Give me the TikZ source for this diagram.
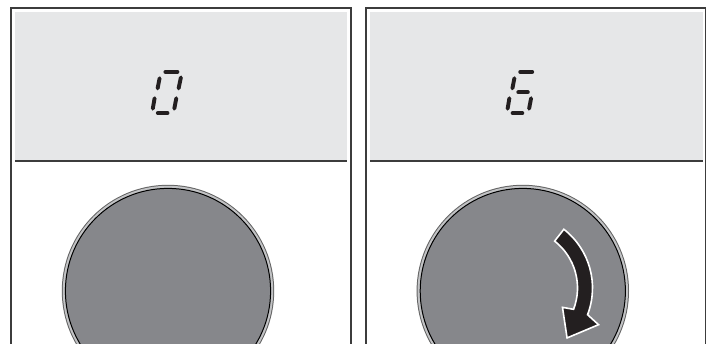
\documentclass[tikz,border=0pt]{standalone}
\usepackage{tikz}
\definecolor{panelgray}{HTML}{E6E7E8}
\definecolor{framecol}{HTML}{3C3C3C}
\definecolor{knobfill}{HTML}{86878B}
\definecolor{ringlight}{HTML}{C2C3C5}
\definecolor{segcol}{HTML}{231F20}
\tikzset{
  framestyle/.style={draw=framecol, line width=1.3pt},
  sepline/.style={draw=framecol, line width=1.3pt},
  segstyle/.style={draw=segcol, line width=3.9pt, line cap=round},
  arrowstyle/.style={fill=segcol, draw=white, line width=1.6pt, line join=miter},
}
\newcommand{\segA}{\draw[segstyle] (165.4,71.9) -- (177.4,71.9);}
\newcommand{\segB}{\draw[segstyle] (180.9,77.4) -- (178.6,88.4);}
\newcommand{\segC}{\draw[segstyle] (176.3,98.2) -- (174.3,108.7);}
\newcommand{\segD}{\draw[segstyle] (157.8,113.1) -- (167.5,113.1);}
\newcommand{\segE}{\draw[segstyle] (154.6,98.2) -- (152.8,108.7);}
\newcommand{\segF}{\draw[segstyle] (159.6,78.2) -- (157.6,88.4);}
\newcommand{\segG}{\draw[segstyle] (163.5,92.3) -- (173.0,92.3);}
\newcommand{\knob}{%
  \fill[framecol!80] (0,0) circle[radius=106.2];
  \fill[ringlight] (0,0) circle[radius=105.2];
  \draw[black, line width=1pt, fill=knobfill] (0,0) circle[radius=102.6];
}
\begin{document}
\begin{tikzpicture}[x=1pt,y=-1pt]
\useasboundingbox (0,0) rectangle (715,344);
\clip (0,0) rectangle (715,344);
\fill[white] (0,0) rectangle (715,344);
% left panel
\fill[panelgray] (15,12) rectangle (347,161);
\draw[sepline] (15,161) -- (347,161);
\draw[framestyle] (11,350) -- (11,8) -- (351,8) -- (351,350);
% right panel
\fill[panelgray] (370,12) rectangle (702.5,161);
\draw[sepline] (370,161) -- (702.5,161);
\draw[framestyle] (366,350) -- (366,8) -- (705.8,8) -- (705.8,350);
% digit 0
\segA \segB \segC \segD \segE \segF
% digit 6
\begin{scope}[xshift=354.8pt]
\segA \segC \segD \segE \segF \segG
\end{scope}
% knobs
\begin{scope}[shift={(168,291)}]
\knob
\end{scope}
\begin{scope}[shift={(522.8,291)}]
\knob
\end{scope}
% rotation arrow
\begin{scope}[shift={(518,288)}]
\draw[arrowstyle] (-52:74.5) arc[start angle=-52, end angle=21, radius=74.5]
  -- (24.5:88.5) -- (45.5:70) -- (23.5:48.5) -- (21:59.5)
  arc[start angle=21, end angle=-52, radius=59.5] -- cycle;
\end{scope}
\end{tikzpicture}
\end{document}
